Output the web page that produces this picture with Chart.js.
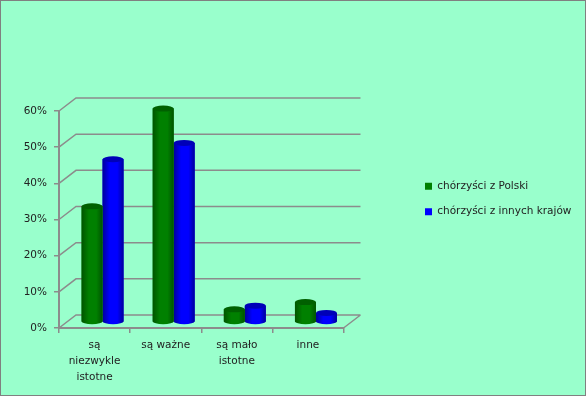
<!DOCTYPE html>
<html lang="pl">
<head>
    <meta charset="UTF-8">
    <title>Chorzy</title>
    <script src="https://cdn.jsdelivr.net/npm/chart.js"></script>
    <style>
        html, body { margin: 0; padding: 0; background: #99FFCC; overflow: hidden; }
        #wrap { width: 586px; height: 396px; position: relative; }
    </style>
</head>
<body>
<div id="wrap"><canvas id="chart" width="586" height="396"></canvas></div>
<script>
const categories = [["są", "niezwykle", "istotne"], "są ważne", ["są mało", "istotne"], "inne"];
const polska = [32, 59, 3.5, 5.5];
const inneKraje = [45, 49.5, 4.5, 2.5];
const tickMax = 60, tickStep = 10;

const GRID = "#8c8c8c";
const DX = 17, DY = 13;   // depth of the back wall

// cylinder colours per dataset: edge, middle, top
const shades = [
    { edge: "#005400", mid: "#008000", top: "#006000" },
    { edge: "#00009a", mid: "#0000ff", top: "#0000b8" }
];

const pseudo3d = {
    id: "pseudo3d",
    beforeDraw(chart) {
        const c = chart.ctx;
        c.save();
        c.strokeStyle = "#808080";
        c.lineWidth = 2;
        c.strokeRect(0, 0, chart.width, chart.height);
        c.restore();
    },
    afterLayout(chart) {
        // park the legend where the original has it
        const l = chart.legend;
        const h = l.bottom - l.top;
        l.left = 410; l.right = 585; l.width = 175;
        l.top = 199 - h / 2; l.bottom = l.top + h;
    },
    beforeDatasetsDraw(chart) {
        const c = chart.ctx, a = chart.chartArea, y = chart.scales.y;
        c.save();
        c.strokeStyle = GRID;
        c.lineWidth = 1.5;
        c.beginPath();
        for (let v = 0; v <= tickMax; v += tickStep) {
            const py = y.getPixelForValue(v);
            c.moveTo(a.left, py);
            c.lineTo(a.left + DX, py - DY);
            c.lineTo(a.right + DX, py - DY);
        }
        c.moveTo(a.right, a.bottom);
        c.lineTo(a.right + DX, a.bottom - DY);
        c.stroke();
        c.restore();
    },
    beforeDatasetDraw(chart) {
        chart.ctx.save();
        chart.ctx.translate(8, -6);
    },
    afterDatasetDraw(chart, args) {
        const c = chart.ctx, s = shades[args.index];
        chart.getDatasetMeta(args.index).data.forEach(bar => {
            const x0 = bar.x - bar.width / 2, x1 = bar.x + bar.width / 2, rx = bar.width / 2, ry = 3;
            const g = c.createLinearGradient(x0, 0, x1, 0);
            g.addColorStop(0, s.edge);
            g.addColorStop(0.35, s.mid);
            g.addColorStop(0.7, s.mid);
            g.addColorStop(1, s.edge);
            c.fillStyle = g;
            c.beginPath();
            c.moveTo(x0, bar.y);
            c.lineTo(x0, bar.base);
            c.ellipse(bar.x, bar.base, rx, ry, 0, Math.PI, 0, true);
            c.lineTo(x1, bar.y);
            c.closePath();
            c.fill();
            c.fillStyle = s.top;
            c.beginPath();
            c.ellipse(bar.x, bar.y, rx, ry, 0, 0, Math.PI * 2);
            c.fill();
        });
        c.restore();
    }
};

const FONT = { family: "'DejaVu Sans'", size: 10.5 };
const XFONT = { family: "'DejaVu Sans'", size: 10.5, lineHeight: 1.55 };

new Chart(document.getElementById("chart"), {
    type: "bar",
    data: {
        labels: categories,
        datasets: [
            { label: "chórzyści z Polski", data: polska, backgroundColor: "#008000", borderWidth: 0 },
            { label: "chórzyści z innych krajów", data: inneKraje, backgroundColor: "#0000ff", borderWidth: 0 }
        ]
    },
    plugins: [pseudo3d],
    options: {
        responsive: false,
        animation: false,
        events: [],
        layout: { autoPadding: false, padding: { left: 0, top: 111, right: 128, bottom: 8 } },
        datasets: { bar: { categoryPercentage: 0.59, barPercentage: 1 } },
        scales: {
            x: {
                grid: { offset: true, drawOnChartArea: false, color: GRID, tickLength: 5, lineWidth: 1.5 },
                border: { color: GRID, width: 2 },
                ticks: { color: "#222", font: XFONT, padding: 4, maxRotation: 0, autoSkip: false },
                afterFit(s) { s.height = 60; }
            },
            y: {
                min: 0, max: tickMax,
                grid: { drawOnChartArea: false, color: GRID, tickLength: 5, lineWidth: 1.5 },
                border: { color: GRID, width: 2 },
                ticks: { stepSize: tickStep, color: "#222", font: FONT, padding: 7, callback: v => v + "%" },
                afterFit(s) { s.width = 59; }
            }
        },
        plugins: {
            tooltip: { enabled: false },
            legend: {
                position: "right",
                labels: { color: "#222", font: FONT, boxWidth: 7, boxHeight: 7, padding: 15 }
            }
        }
    }
});
</script>
</body>
</html>
